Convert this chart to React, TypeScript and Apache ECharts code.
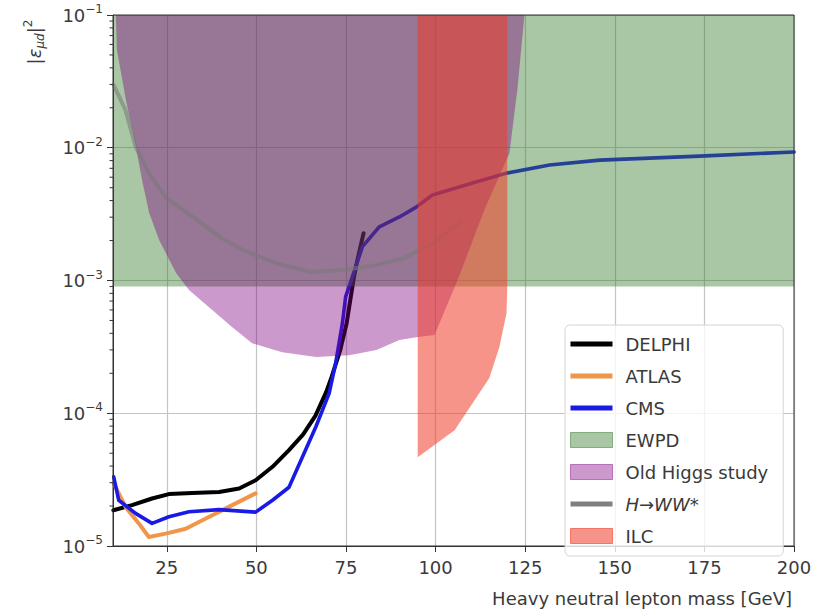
import React, { useEffect, useRef } from "react";
import * as echarts from "echarts";

// ---------- data ----------
const X_MIN = 10;
const X_MAX = 200;
const Y_MIN = 1e-5;
const Y_MAX = 0.1;

const xTicks = [25, 50, 75, 100, 125, 150, 175, 200];
const minorMultipliers = [2, 3, 4, 5, 6, 7, 8, 9];
const minorDecades = [1e-5, 1e-4, 1e-3, 1e-2];

const delphiX = [10.1, 15.3, 20.9, 25.6, 32.1, 39.6, 45.2, 49.8, 54.5, 59.1, 63.0, 66.5, 69.5, 71.0, 73.4, 75.2, 76.2, 77.1, 78.0, 79.9];
const delphiY = [1.86e-5, 2.03e-5, 2.28e-5, 2.46e-5, 2.51e-5, 2.55e-5, 2.71e-5, 3.13e-5, 3.95e-5, 5.27e-5, 6.9e-5, 9.6e-5, 1.45e-4, 1.88e-4, 2.99e-4, 4.78e-4, 7.11e-4, 1.01e-3, 1.35e-3, 2.27e-3];

const atlasX = [10.2, 13.5, 17.2, 20.0, 24.7, 30.3, 35.9, 41.5, 49.8];
const atlasY = [2.96e-5, 1.97e-5, 1.48e-5, 1.17e-5, 1.24e-5, 1.35e-5, 1.61e-5, 1.92e-5, 2.49e-5];

const cmsX = [10.2, 11.6, 16.3, 20.9, 25.6, 31.2, 39.6, 49.8, 54.5, 59.1, 66.6, 70.3, 72.1, 74.0, 74.9, 76.8, 79.6, 84.3, 89.9, 94.6, 99.1, 110.3, 119.8, 131.8, 145.8, 173.7, 200];
const cmsY = [3.32e-5, 2.21e-5, 1.76e-5, 1.48e-5, 1.66e-5, 1.81e-5, 1.88e-5, 1.80e-5, 2.21e-5, 2.77e-5, 7.91e-5, 1.41e-4, 2.37e-4, 4.75e-4, 7.53e-4, 1.07e-3, 1.80e-3, 2.54e-3, 3.01e-3, 3.57e-3, 4.41e-3, 5.42e-3, 6.44e-3, 7.41e-3, 8.07e-3, 8.65e-3, 9.29e-3];

const hwwX = [10.2, 13.5, 16.3, 20.0, 24.9, 32.3, 39.8, 46.3, 55.6, 65.0, 74.3, 83.6, 91.1, 98.5, 106.9];
const hwwY = [2.96e-2, 1.92e-2, 1.02e-2, 6.44e-3, 4.18e-3, 3.02e-3, 2.13e-3, 1.69e-3, 1.35e-3, 1.16e-3, 1.2e-3, 1.31e-3, 1.47e-3, 1.85e-3, 2.75e-3];

const ewpdX = [10, 200];
const ewpdY = [9e-4, 9e-4];

const higgsX = [10.8, 11.1, 13.6, 16.4, 18.1, 20.1, 22.9, 27.6, 31.2, 36.8, 43.2, 48.8, 57.2, 66.7, 75.9, 83.5, 89.9, 94.6, 99.7, 106.1, 113.6, 120.6, 122.8, 124.8];
const higgsY = [0.1, 0.0545, 0.0229, 0.0101, 0.00571, 0.00322, 0.00201, 0.00114, 8.47e-4, 6.3e-4, 4.46e-4, 3.37e-4, 2.88e-4, 2.65e-4, 2.74e-4, 2.99e-4, 3.56e-4, 3.74e-4, 3.89e-4, 1.0e-3, 3.39e-3, 9.1e-3, 0.0272, 0.1];

const ilcX = [95, 105.3, 115.0, 117.8, 119.8, 120];
const ilcY = [4.67e-5, 7.46e-5, 1.84e-4, 3.15e-4, 5.68e-4, 8.9e-4];

// ---------- styles ----------
const FONT = "DejaVu Sans";
const TEXT = "#3a3a3a";
const C_DELPHI = "#000000";
const C_ATLAS = "#f0964a";
const C_CMS = "#1a1ae6";
const C_HWW = "rgba(120,120,120,0.55)";
const C_EWPD = "rgba(50,120,40,0.42)";
const C_HIGGS = "rgba(128,0,128,0.4)";
const C_ILC = "rgba(240,60,40,0.55)";

const zip = (xs: number[], ys: number[]) => xs.map((x, i) => [x, ys[i]]);

const lineSeries = (name: string, xs: number[], ys: number[], color: string, width: number, z = 2) => ({
  name,
  type: "line",
  data: zip(xs, ys),
  symbol: "none",
  showSymbol: false,
  silent: true,
  z,
  color,
  lineStyle: { color, width, join: "round", cap: "round" },
  emphasis: { disabled: true },
});

const areaSeries = (name: string, xs: number[], ys: number[], color: string, z: number) => ({
  name,
  type: "line",
  data: zip(xs, ys),
  symbol: "none",
  showSymbol: false,
  silent: true,
  z,
  color,
  lineStyle: { width: 0, color },
  areaStyle: { color, opacity: 1, origin: "end" },
  emphasis: { disabled: true },
});

export default function App() {
  const ref = useRef<HTMLDivElement>(null);

  useEffect(() => {
    document.body.style.margin = "0";
    if (!ref.current) return;
    const chart = echarts.init(ref.current, null, { renderer: "svg" });
    const minorTicks = minorDecades.flatMap((d) => minorMultipliers.map((m) => [X_MIN, m * d]));

    const option: any = {
      animation: false,
      backgroundColor: "#ffffff",
      grid: {
        left: 113,
        right: 24,
        top: 15,
        bottom: 64,
        show: true,
        borderColor: "#333",
        borderWidth: 1,
        backgroundColor: "transparent",
        z: 20,
      },
      xAxis: {
        type: "value",
        min: X_MIN,
        max: X_MAX,
        axisLine: { show: true, onZero: false, lineStyle: { color: "#333", width: 1 } },
        axisTick: { show: true, length: 6, customValues: xTicks, lineStyle: { color: "#333" } },
        axisLabel: {
          customValues: xTicks,
          fontSize: 18,
          fontFamily: FONT,
          color: TEXT,
          margin: 12,
        },
        splitLine: { show: true, lineStyle: { color: "#c4c4c4", width: 1.2 } },
      },
      yAxis: {
        type: "log",
        logBase: 10,
        min: Y_MIN,
        max: Y_MAX,
        axisLine: { show: true, lineStyle: { color: "#333", width: 1 } },
        axisTick: { show: true, length: 6, lineStyle: { color: "#333" } },
        axisLabel: {
          margin: 10,
          formatter: (v: number) => `{b|10}{s|\u2212${Math.abs(Math.round(Math.log10(v)))}}`,
          rich: {
            b: { fontSize: 18, fontFamily: FONT, color: TEXT, lineHeight: 24 },
            s: { fontSize: 12, fontFamily: FONT, color: TEXT, lineHeight: 14, verticalAlign: "top" },
          },
        },
        splitLine: { show: true, lineStyle: { color: "#c4c4c4", width: 1.2 } },
      },
      legend: {
        orient: "vertical",
        left: 565,
        top: 325,
        padding: [10, 15, 11, 5],
        itemGap: 14,
        itemWidth: 42,
        itemHeight: 15,
        backgroundColor: "rgba(255,255,255,0.8)",
        borderColor: "#d4d4d4",
        borderWidth: 1,
        borderRadius: 5,
        selectedMode: false,
        z: 30,
        textStyle: { fontSize: 18, fontFamily: FONT, color: TEXT, lineHeight: 15, padding: [0, 0, 0, 8] },
        data: [
          { name: "DELPHI", icon: "path://M0,0H42V5H0Z", itemStyle: { color: C_DELPHI, borderWidth: 0 } },
          { name: "ATLAS", icon: "path://M0,0H42V5H0Z", itemStyle: { color: C_ATLAS, borderWidth: 0 } },
          { name: "CMS", icon: "path://M0,0H42V5H0Z", itemStyle: { color: C_CMS, borderWidth: 0 } },
          { name: "EWPD", icon: "rect", itemStyle: { color: C_EWPD, borderColor: "rgba(50,120,40,0.5)", borderWidth: 1 } },
          { name: "Old Higgs study", icon: "rect", itemStyle: { color: C_HIGGS, borderColor: "rgba(128,0,128,0.45)", borderWidth: 1 } },
          {
            name: "H\u2192WW*",
            icon: "path://M0,0H42V5H0Z",
            itemStyle: { color: "#808080", borderWidth: 0 },
            textStyle: { fontStyle: "italic" },
          },
          { name: "ILC", icon: "rect", itemStyle: { color: C_ILC, borderColor: "rgba(240,60,40,0.6)", borderWidth: 1 } },
        ],
      },
      series: [
        lineSeries("DELPHI", delphiX, delphiY, C_DELPHI, 4),
        lineSeries("ATLAS", atlasX, atlasY, C_ATLAS, 4),
        lineSeries("CMS", cmsX, cmsY, C_CMS, 3.6),
        areaSeries("EWPD", ewpdX, ewpdY, C_EWPD, 3),
        areaSeries("Old Higgs study", higgsX, higgsY, C_HIGGS, 4),
        lineSeries("H\u2192WW*", hwwX, hwwY, C_HWW, 4, 4.5),
        areaSeries("ILC", ilcX, ilcY, C_ILC, 5),
        {
          name: "minorTicks",
          type: "custom",
          silent: true,
          clip: false,
          z: 25,
          data: minorTicks,
          renderItem: (_params: any, api: any) => {
            const p = api.coord([api.value(0), api.value(1)]);
            return {
              type: "line",
              shape: { x1: p[0] - 3.5, y1: p[1], x2: p[0], y2: p[1] },
              style: { stroke: "#333", lineWidth: 1 },
            };
          },
        },
      ],
      graphic: [
        {
          type: "text",
          x: 792,
          y: 598,
          z: 50,
          style: {
            text: "Heavy neutral lepton mass [GeV]",
            fill: TEXT,
            fontSize: 18,
            fontFamily: FONT,
            align: "right",
            verticalAlign: "middle",
            textAlign: "right",
            textVerticalAlign: "middle",
          },
        },
        {
          type: "text",
          x: 34,
          y: 42,
          rotation: Math.PI / 2,
          z: 50,
          style: {
            text: "|{e|\u03b5}{s|\u03bcd}|{p|2}",
            fill: TEXT,
            fontSize: 18,
            fontFamily: FONT,
            lineHeight: 24,
            align: "center",
            verticalAlign: "middle",
            textAlign: "center",
            textVerticalAlign: "middle",
            rich: {
              e: { fontSize: 18, fontFamily: FONT, fontStyle: "italic", fill: TEXT, lineHeight: 24 },
              s: { fontSize: 12, fontFamily: FONT, fontStyle: "italic", fill: TEXT, lineHeight: 12, verticalAlign: "bottom" },
              p: { fontSize: 12, fontFamily: FONT, fill: TEXT, lineHeight: 12, verticalAlign: "top" },
            },
          },
        },
      ],
    };

    chart.setOption(option);
    return () => chart.dispose();
  }, []);

  return <div ref={ref} style={{ width: 818, height: 610 }} />;
}
